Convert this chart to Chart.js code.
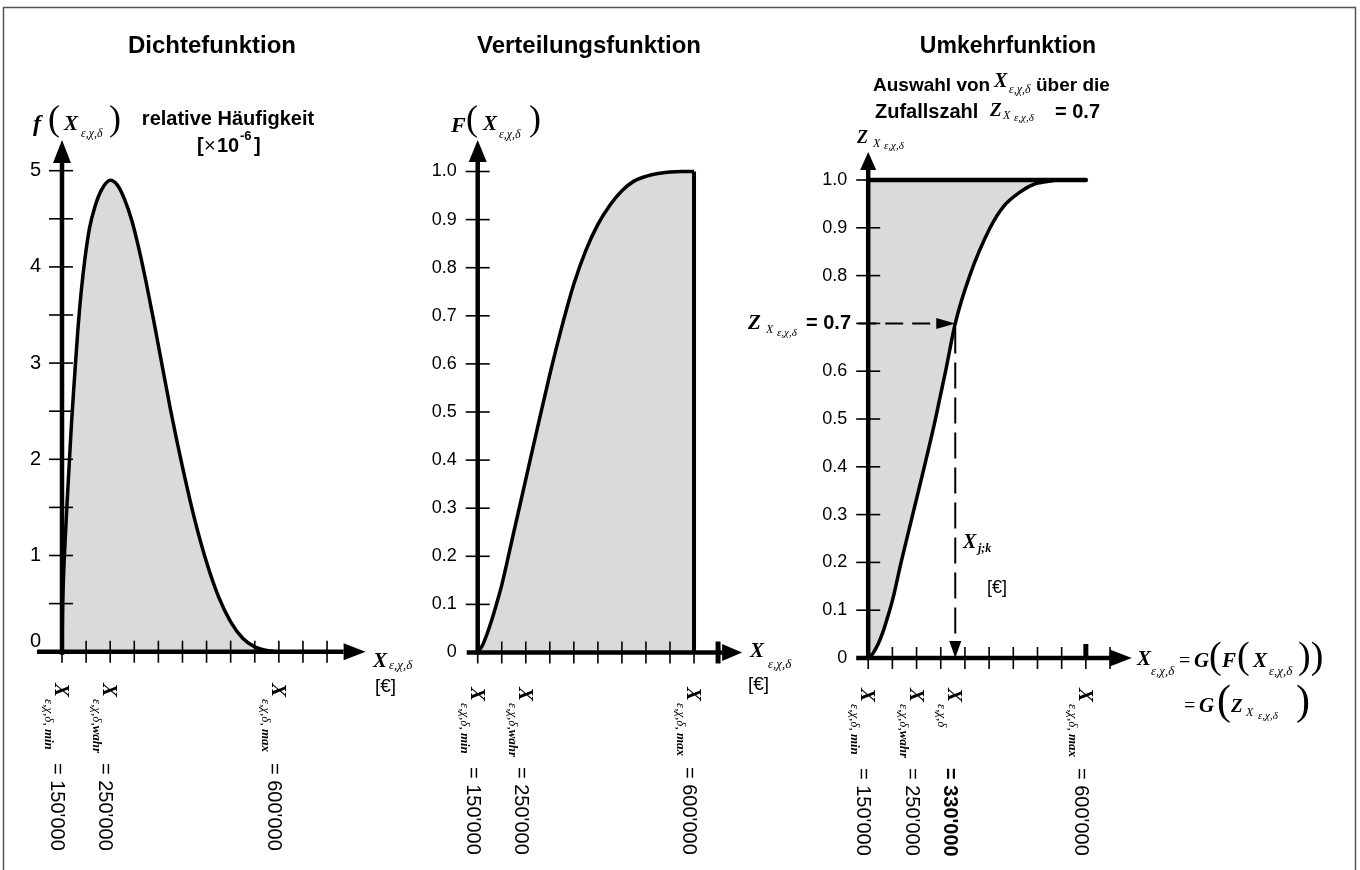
<!DOCTYPE html>
<html>
<head>
<meta charset="utf-8">
<script src="https://cdn.jsdelivr.net/npm/chart.js@4.4.1/dist/chart.umd.min.js"></script>
<style>
  body { margin: 0; background: #fff; }
  .wrap { position: relative; width: 1360px; height: 870px; }
  canvas { position: absolute; left: 0; top: 0; }
</style>
</head>
<body>
<div class="wrap">
  <canvas id="dichte" width="1360" height="870"></canvas>
  <canvas id="verteilung" width="1360" height="870"></canvas>
  <canvas id="umkehr" width="1360" height="870"></canvas>
</div>
<script>
// Dichtefunktion: x in €, f in 10^-6
const dichteX = [150000, 151000, 153000, 156000, 160000, 165000, 170000, 176000, 183000, 190000, 198000, 207000, 218000, 232000, 250000, 265000, 280000, 295000, 310000, 325000, 340000, 355000, 375000, 400000, 425000, 450000, 475000, 500000, 525000, 550000, 575000, 600000];
const dichteY = [0, 0.4, 0.75, 1.1, 1.5, 1.95, 2.4, 2.85, 3.35, 3.75, 4.1, 4.4, 4.62, 4.8, 4.9, 4.85, 4.7, 4.48, 4.18, 3.83, 3.45, 3.05, 2.52, 1.92, 1.38, 0.93, 0.57, 0.31, 0.14, 0.05, 0.012, 0];

// Verteilungsfunktion
const vertX = [150000, 160000, 170000, 180000, 190000, 200000, 225000, 250000, 275000, 300000, 325000, 350000, 375000, 400000, 425000, 450000, 475000, 500000, 525000, 550000, 575000, 600000];
const vertY = [0, 0.015, 0.04, 0.07, 0.104, 0.14, 0.25, 0.36, 0.47, 0.578, 0.677, 0.766, 0.836, 0.89, 0.93, 0.96, 0.98, 0.99, 0.996, 0.999, 1.0, 1.0];

// Umkehrfunktion
const umkX = [150000, 160000, 170000, 180000, 190000, 200000, 218000, 242000, 266000, 289000, 310000, 330000, 360000, 402000, 430000, 460000, 490000, 520000, 550000, 600000];
const umkY = [0, 0.01, 0.028, 0.053, 0.085, 0.12, 0.2, 0.3, 0.4, 0.5, 0.6, 0.7, 0.8, 0.9, 0.945, 0.972, 0.99, 0.997, 1.0, 1.0];

// Achsen / Marken
const xTicksLeft = [150000, 200000, 250000, 300000, 350000, 400000, 450000, 500000, 550000, 600000, 650000, 700000];
const xTicksMid = [150000, 200000, 250000, 300000, 350000, 400000, 450000, 500000, 550000, 600000];
const xTicksRight = [150000, 200000, 250000, 300000, 350000, 400000, 450000, 500000, 550000, 600000, 650000];
const yTicksDichte = [0, 0.5, 1, 1.5, 2, 2.5, 3, 3.5, 4, 4.5, 5];
const yTicksCdf = [0, 0.1, 0.2, 0.3, 0.4, 0.5, 0.6, 0.7, 0.8, 0.9, 1.0];
const xMin = 150000, xWahr = 250000, xMax = 600000;
const zufallszahl = 0.7;
const xZiel = 330000;

const SANS = '"Liberation Sans", Arial, sans-serif';
const SERIF = '"Liberation Serif", "Times New Roman", serif';
const GRAU = '#dadada';

function txt(ctx, s, x, y, font, align) {
  ctx.font = font;
  ctx.textAlign = align || 'left';
  ctx.textBaseline = 'alphabetic';
  ctx.fillText(s, x, y);
}

function line(ctx, x1, y1, x2, y2) {
  ctx.beginPath(); ctx.moveTo(x1, y1); ctx.lineTo(x2, y2); ctx.stroke();
}

function arrow(ctx, x1, y1, x2, y2, lw, len, half, dash) {
  const a = Math.atan2(y2 - y1, x2 - x1);
  const bx = x2 - Math.cos(a) * len, by = y2 - Math.sin(a) * len;
  ctx.lineWidth = lw;
  if (dash) ctx.setLineDash(dash);
  line(ctx, x1, y1, bx, by);
  ctx.setLineDash([]);
  ctx.beginPath();
  ctx.moveTo(x2, y2);
  ctx.lineTo(bx + Math.sin(a) * half, by - Math.cos(a) * half);
  ctx.lineTo(bx - Math.sin(a) * half, by + Math.cos(a) * half);
  ctx.closePath();
  ctx.fill();
}

function euro(v) { return (v / 1000) + "'000"; }

// senkrechte Beschriftung unter der x-Achse
function rotLabel(ctx, x, y0, sub1, sub2, wert, fett) {
  ctx.save();
  ctx.translate(x, y0);
  ctx.rotate(Math.PI / 2);
  txt(ctx, 'X', 0, 7, 'italic bold 21px ' + SERIF);
  let w = ctx.measureText('X').width + 2;
  txt(ctx, sub1, w, 17, 'italic 13px ' + SERIF);
  w += ctx.measureText(sub1).width;
  if (sub2) txt(ctx, sub2, w, 17, 'italic bold 13px ' + SERIF);
  txt(ctx, '= ' + euro(wert), 80, 11, (fett ? 'bold ' : '') + '20px ' + SANS);
  ctx.restore();
}

function makeChart(id, cfg) {
  return new Chart(document.getElementById(id), {
    type: 'line',
    data: { datasets: cfg.datasets },
    options: {
      responsive: false,
      animation: false,
      devicePixelRatio: 1,
      events: [],
      layout: { padding: cfg.padding },
      plugins: { legend: { display: false }, tooltip: { enabled: false } },
      elements: { point: { radius: 0 } },
      scales: {
        x: {
          type: 'linear', min: cfg.xMin, max: cfg.xMax,
          afterBuildTicks: s => { s.ticks = cfg.xTicks.map(v => ({ value: v })); },
          ticks: { display: false },
          grid: { display: false, drawTicks: false },
          border: { display: false },
          afterFit: s => { s.height = 0; }
        },
        y: {
          type: 'linear', min: 0, max: cfg.yMax,
          afterBuildTicks: s => { s.ticks = cfg.yTicks.map(v => ({ value: v })); },
          ticks: { autoSkip: false, padding: 21, color: '#000', font: { family: SANS, size: cfg.fontSize }, callback: cfg.yLabel },
          grid: { display: false, drawTicks: false },
          border: { display: false },
          afterFit: s => { s.width = 50; }
        }
      }
    },
    plugins: [{ id: 'deko', afterDatasetsDraw: cfg.draw }]
  });
}

function tickMarks(ctx, x, y, ax, ay, yl, yr) {
  ctx.lineWidth = 1.6;
  y.ticks.forEach(t => {
    if (t.value === 0) return;
    const py = y.getPixelForValue(t.value);
    line(ctx, ax - yl, py, ax + yr, py);
  });
  x.ticks.forEach(t => {
    const px = x.getPixelForValue(t.value);
    line(ctx, px, ay - 11, px, ay + 11);
  });
}

// ---------- Dichtefunktion ----------
makeChart('dichte', {
  padding: { left: 12, right: 994.4, top: 140, bottom: 218.3 },
  xMin: 150000, xMax: 780000, yMax: 5.319,
  xTicks: xTicksLeft, yTicks: yTicksDichte, fontSize: 20,
  yLabel: v => (v % 1 === 0 && v !== 0) ? String(v) : '',
  datasets: [{
    data: dichteX.map((x, i) => ({ x: x, y: dichteY[i] })),
    borderColor: '#000', borderWidth: 3.5, backgroundColor: GRAU,
    fill: 'origin', cubicInterpolationMode: 'monotone'
  }],
  draw(chart) {
    const { ctx, scales: { x, y }, chartArea } = chart;
    const ax = x.getPixelForValue(xMin), ay = y.getPixelForValue(0);
    ctx.save();
    ctx.fillStyle = '#000';
    // Rahmen
    ctx.strokeStyle = '#555'; ctx.lineWidth = 1.5;
    ctx.strokeRect(3.5, 7.5, 1352, 900);
    ctx.strokeStyle = '#000';
    tickMarks(ctx, x, y, ax, ay, 13, 11);
    arrow(ctx, ax, ay + 3, ax, chartArea.top, 4.5, 23, 9);
    arrow(ctx, ax - 25, ay, chartArea.right, ay, 4.5, 22, 8.5);
    txt(ctx, '0', 41, 647, '20px ' + SANS, 'right');
    txt(ctx, 'Dichtefunktion', 212, 53, 'bold 24px ' + SANS, 'center');
    // y-Beschriftung
    txt(ctx, 'f', 33, 131, 'italic bold 24px ' + SERIF);
    txt(ctx, '(', 48, 130, '36px ' + SERIF);
    txt(ctx, 'X', 64, 130, 'italic bold 21px ' + SERIF);
    txt(ctx, 'ε,χ,δ', 81, 137, 'italic 12px ' + SERIF);
    txt(ctx, ')', 109, 130, '36px ' + SERIF);
    txt(ctx, 'relative Häufigkeit', 228, 125, 'bold 20px ' + SANS, 'center');
    txt(ctx, '[', 197, 152, 'bold 20px ' + SANS);
    txt(ctx, '×', 204, 152, '20px ' + SANS);
    txt(ctx, '10', 217, 152, 'bold 20px ' + SANS);
    txt(ctx, '-6', 240, 140, 'bold 13px ' + SANS);
    txt(ctx, ']', 254, 152, 'bold 20px ' + SANS);
    // x-Beschriftung
    txt(ctx, 'X', 373, 667, 'italic bold 21px ' + SERIF);
    txt(ctx, 'ε,χ,δ', 389, 669, 'italic 13px ' + SERIF);
    txt(ctx, '[€]', 375, 692, '19px ' + SANS);
    rotLabel(ctx, x.getPixelForValue(xMin), 683, 'ε,χ,δ,', ' min', xMin);
    rotLabel(ctx, x.getPixelForValue(xWahr), 683, 'ε,χ,δ,', 'wahr', xWahr);
    rotLabel(ctx, x.getPixelForValue(xMax), 683, 'ε,χ,δ,', ' max', xMax);
    ctx.restore();
  }
});

// ---------- Verteilungsfunktion ----------
makeChart('verteilung', {
  padding: { left: 427.7, right: 617.9, top: 140, bottom: 217.5 },
  xMin: 150000, xMax: 700000, yMax: 1.0655,
  xTicks: xTicksMid, yTicks: yTicksCdf, fontSize: 18,
  yLabel: v => v === 0 ? '0' : v.toFixed(1),
  datasets: [{
    data: [{ x: xMax, y: 0 }, { x: xMax, y: 1 }],
    borderColor: '#000', borderWidth: 4, fill: false
  }, {
    data: vertX.map((x, i) => ({ x: x, y: vertY[i] })),
    borderColor: '#000', borderWidth: 3.5, backgroundColor: GRAU,
    fill: 'origin', cubicInterpolationMode: 'monotone'
  }],
  draw(chart) {
    const { ctx, scales: { x, y }, chartArea } = chart;
    const ax = x.getPixelForValue(xMin), ay = y.getPixelForValue(0);
    ctx.save();
    ctx.fillStyle = '#000'; ctx.strokeStyle = '#000';
    tickMarks(ctx, x, y, ax, ay, 12, 12);
    arrow(ctx, ax, ay + 2, ax, chartArea.top, 4.5, 22, 9);
    arrow(ctx, ax - 11, ay, chartArea.right, ay, 4.5, 20, 8.5);
    ctx.lineWidth = 5;
    const p650 = x.getPixelForValue(650000);
    line(ctx, p650, ay - 11, p650, ay + 11);
    txt(ctx, 'Verteilungsfunktion', 589, 53, 'bold 24px ' + SANS, 'center');
    txt(ctx, 'F', 451, 132, 'italic bold 22px ' + SERIF);
    txt(ctx, '(', 466, 130, '36px ' + SERIF);
    txt(ctx, 'X', 483, 130, 'italic bold 21px ' + SERIF);
    txt(ctx, 'ε,χ,δ', 499, 138, 'italic 12px ' + SERIF);
    txt(ctx, ')', 529, 130, '36px ' + SERIF);
    txt(ctx, 'X', 750, 657, 'italic bold 21px ' + SERIF);
    txt(ctx, 'ε,χ,δ', 768, 668, 'italic 13px ' + SERIF);
    txt(ctx, '[€]', 748, 690, '19px ' + SANS);
    rotLabel(ctx, x.getPixelForValue(xMin), 687, 'ε,χ,δ,', ' min', xMin);
    rotLabel(ctx, x.getPixelForValue(xWahr), 687, 'ε,χ,δ,', 'wahr', xWahr);
    rotLabel(ctx, x.getPixelForValue(xMax), 687, 'ε,χ,δ,', ' max', xMax);
    ctx.restore();
  }
});

// ---------- Umkehrfunktion ----------
makeChart('umkehr', {
  padding: { left: 818.2, right: 228.2, top: 152, bottom: 212 },
  xMin: 150000, xMax: 695000, yMax: 1.0586,
  xTicks: xTicksRight, yTicks: yTicksCdf, fontSize: 18,
  yLabel: v => v === 0 ? '0' : (v === zufallszahl ? '' : v.toFixed(1)),
  datasets: [{
    data: [{ x: xMin, y: 1 }, { x: xMax, y: 1 }],
    borderColor: '#000', borderWidth: 4.5, borderCapStyle: 'round', fill: false
  }, {
    data: umkX.map((x, i) => ({ x: x, y: umkY[i] })),
    borderColor: '#000', borderWidth: 3.5, backgroundColor: GRAU,
    fill: { value: 1 }, cubicInterpolationMode: 'monotone'
  }],
  draw(chart) {
    const { ctx, scales: { x, y }, chartArea } = chart;
    const ax = x.getPixelForValue(xMin), ay = y.getPixelForValue(0);
    const zx = x.getPixelForValue(xZiel), zy = y.getPixelForValue(zufallszahl);
    ctx.save();
    ctx.fillStyle = '#000'; ctx.strokeStyle = '#000';
    // Zufallszahl -> Wert
    arrow(ctx, ax - 10, zy, zx, zy, 2, 19, 5.5, [18, 9]);
    arrow(ctx, zx, zy + 4, zx, ay, 2, 17, 6, [26, 9]);
    tickMarks(ctx, x, y, ax, ay, 12, 12);
    arrow(ctx, ax, ay + 2, ax, chartArea.top, 4.5, 18, 8);
    arrow(ctx, ax - 12, ay, chartArea.right, ay, 4.5, 22, 8.5);
    ctx.lineWidth = 5;
    const p600 = x.getPixelForValue(xMax);
    line(ctx, p600, ay - 14, p600, ay);
    txt(ctx, 'Umkehrfunktion', 1008, 53, 'bold 23px ' + SANS, 'center');
    // Untertitel
    txt(ctx, 'Auswahl von', 873, 91, 'bold 19px ' + SANS);
    txt(ctx, 'X', 994, 87, 'italic bold 20px ' + SERIF);
    txt(ctx, 'ε,χ,δ', 1009, 93, 'italic 12px ' + SERIF);
    txt(ctx, 'über die', 1036, 91, 'bold 19px ' + SANS);
    txt(ctx, 'Zufallszahl', 875, 118, 'bold 20px ' + SANS);
    txt(ctx, 'Z', 990, 116, 'italic bold 19px ' + SERIF);
    txt(ctx, 'X', 1003, 119, 'italic 12px ' + SERIF);
    txt(ctx, 'ε,χ,δ', 1014, 121, 'italic 11px ' + SERIF);
    txt(ctx, '= ' + zufallszahl.toFixed(1), 1055, 118, 'bold 20px ' + SANS);
    // y-Beschriftung
    txt(ctx, 'Z', 857, 143, 'italic bold 18px ' + SERIF);
    txt(ctx, 'X', 873, 147, 'italic 12px ' + SERIF);
    txt(ctx, 'ε,χ,δ', 884, 149, 'italic 11px ' + SERIF);
    // Z-Marke
    txt(ctx, 'Z', 748, 329, 'italic bold 21px ' + SERIF);
    txt(ctx, 'X', 766, 333, 'italic 12px ' + SERIF);
    txt(ctx, 'ε,χ,δ', 777, 336, 'italic 11px ' + SERIF);
    txt(ctx, '= ' + zufallszahl.toFixed(1), 806, 329, 'bold 20px ' + SANS);
    txt(ctx, 'X', 963, 548, 'italic bold 20px ' + SERIF);
    txt(ctx, 'j;k', 978, 552, 'italic bold 12px ' + SERIF);
    txt(ctx, '[€]', 987, 593, '18px ' + SANS);
    // x-Beschriftung
    txt(ctx, 'X', 1137, 665, 'italic bold 21px ' + SERIF);
    txt(ctx, 'ε,χ,δ', 1151, 675, 'italic 13px ' + SERIF);
    txt(ctx, '=', 1179, 667, '20px ' + SERIF);
    txt(ctx, 'G', 1194, 667, 'italic bold 21px ' + SERIF);
    txt(ctx, '(', 1209, 668, '38px ' + SERIF);
    txt(ctx, 'F', 1222, 667, 'italic bold 21px ' + SERIF);
    txt(ctx, '(', 1237, 668, '38px ' + SERIF);
    txt(ctx, 'X', 1253, 667, 'italic bold 21px ' + SERIF);
    txt(ctx, 'ε,χ,δ', 1269, 675, 'italic 13px ' + SERIF);
    txt(ctx, '))', 1298, 668, '38px ' + SERIF);
    txt(ctx, '=', 1184, 712, '20px ' + SERIF);
    txt(ctx, 'G', 1199, 712, 'italic bold 21px ' + SERIF);
    txt(ctx, '(', 1217, 714, '42px ' + SERIF);
    txt(ctx, 'Z', 1231, 712, 'italic bold 19px ' + SERIF);
    txt(ctx, 'X', 1246, 716, 'italic 12px ' + SERIF);
    txt(ctx, 'ε,χ,δ', 1258, 719, 'italic 11px ' + SERIF);
    txt(ctx, ')', 1296, 714, '42px ' + SERIF);
    rotLabel(ctx, x.getPixelForValue(xMin), 688, 'ε,χ,δ,', ' min', xMin);
    rotLabel(ctx, x.getPixelForValue(xWahr), 688, 'ε,χ,δ,', 'wahr', xWahr);
    rotLabel(ctx, zx, 688, 'ε,χ,δ', '', xZiel, true);
    rotLabel(ctx, x.getPixelForValue(xMax), 688, 'ε,χ,δ,', ' max', xMax);
    ctx.restore();
  }
});
</script>
</body>
</html>
